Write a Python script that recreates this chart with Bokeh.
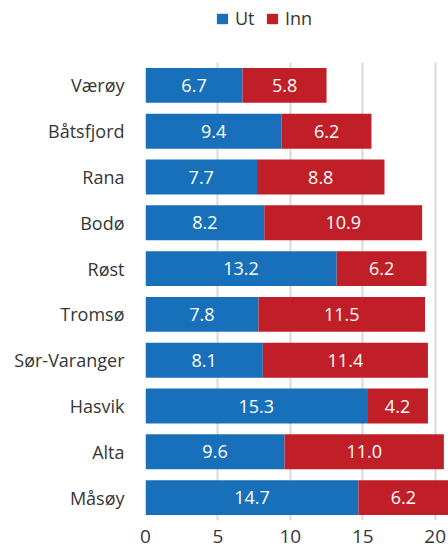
from bokeh.plotting import figure
from bokeh.layouts import column
from bokeh.models import ColumnDataSource, Legend, LegendItem, FixedTicker, LabelSet
from bokeh.core.properties import value
from bokeh.embed import file_html
from bokeh.resources import INLINE

places = ["Værøy", "Båtsfjord", "Rana", "Bodø", "Røst", "Tromsø",
          "Sør-Varanger", "Hasvik", "Alta", "Måsøy"]
ut = [6.7, 9.4, 7.7, 8.2, 13.2, 7.8, 8.1, 15.3, 9.6, 14.7]
inn = [5.8, 6.2, 8.8, 10.9, 6.2, 11.5, 11.4, 4.2, 11.0, 6.2]
x_ticks = [0, 5, 10, 15, 20]
series = ["Ut", "Inn"]

FONT = "Open Sans"
BLUE = "#1870BA"
RED = "#C01F28"
TXT = "#363636"

src = ColumnDataSource(dict(
    place=places, ut=ut, inn=inn,
    ut_mid=[u / 2 for u in ut],
    inn_mid=[u + i / 2 for u, i in zip(ut, inn)],
    ut_lbl=[f"{u:.1f}" for u in ut],
    inn_lbl=[f"{i:.1f}" for i in inn],
))

# legend strip on top (its frame is aligned with the main plot's frame)
lg = figure(width=448, height=62, x_range=(0, 20.92),
            y_range=list(reversed(places)),
            output_backend="svg", toolbar_location=None,
            x_axis_location=None, y_axis_location=None, min_border=0)
lg.outline_line_color = None
lg.grid.visible = False
lr = lg.hbar_stack(["ut", "inn"], y="place", height=0.763, color=[BLUE, RED],
                   source=src, line_color=None)
for rr in lr:
    rr.visible = False
legend = Legend(items=[LegendItem(label=series[0], renderers=[lr[0]]),
                       LegendItem(label=series[1], renderers=[lr[1]])],
                orientation="horizontal", location=(70, 32),
                glyph_width=14, glyph_height=13, label_text_font=FONT,
                label_text_font_size="18px", label_text_color=TXT,
                label_height=20, border_line_color=None,
                background_fill_alpha=0, spacing=10, label_standoff=6,
                padding=0, margin=0)
lg.add_layout(legend, "center")

p = figure(y_range=list(reversed(places)), x_range=(0, 20.92),
           width=448, height=488, output_backend="svg", toolbar_location=None,
           min_border_left=145, min_border_right=0, min_border_top=0,
           min_border_bottom=30)
p.outline_line_color = None

p.hbar_stack(["ut", "inn"], y="place", height=0.763, color=[BLUE, RED],
             source=src, line_color=None)

for col, lbl in (("ut_mid", "ut_lbl"), ("inn_mid", "inn_lbl")):
    p.add_layout(LabelSet(x=col, y="place", text=lbl, source=src,
                          text_align="center", text_baseline="middle",
                          text_color="white", text_font=value(FONT),
                          text_font_size="18px"))

p.xaxis.ticker = FixedTicker(ticks=x_ticks)
p.xaxis.axis_line_color = None
p.xaxis.major_tick_line_color = None
p.xaxis.minor_tick_line_color = None
p.xaxis.major_label_text_font = FONT
p.xaxis.major_label_text_font_size = "19px"
p.xaxis.major_label_text_color = TXT
p.xaxis.major_label_standoff = 3

p.yaxis.axis_line_color = None
p.yaxis.major_tick_line_color = None
p.yaxis.minor_tick_line_color = None
p.yaxis.major_label_text_font = FONT
p.yaxis.major_label_text_font_size = "18px"
p.yaxis.major_label_text_color = TXT
p.yaxis.major_label_standoff = 15

p.ygrid.grid_line_color = None
p.xgrid.grid_line_color = "#D9D9D9"
p.xgrid.grid_line_width = 2

open("out.html", "w").write(file_html(column(lg, p, spacing=0), INLINE))
